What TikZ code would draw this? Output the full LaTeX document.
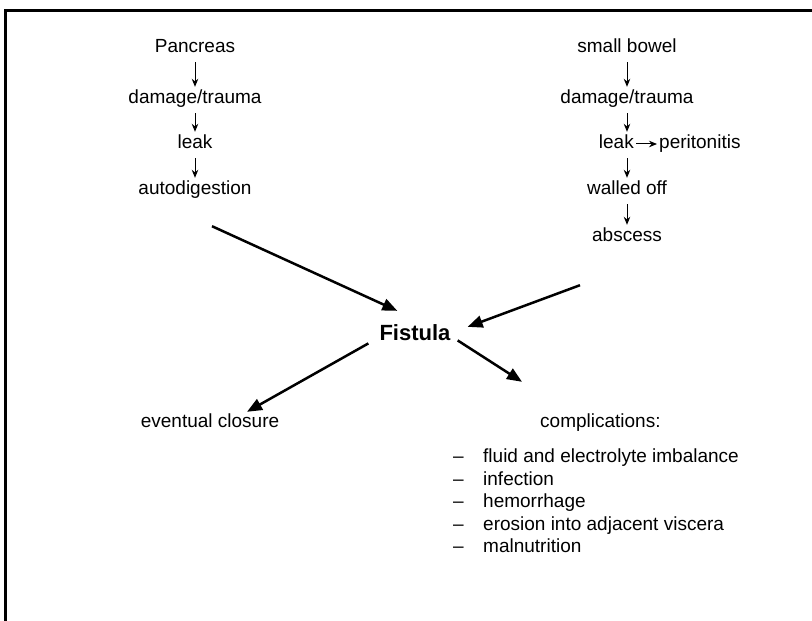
\documentclass[tikz,border=0pt]{standalone}
\usepackage{fontspec}
\setmainfont{Liberation Sans}
\usetikzlibrary{arrows.meta,calc}
\begin{document}
\begin{tikzpicture}[x=1bp,y=-1bp,
  lbl/.style={font=\fontsize{19bp}{22bp}\selectfont, inner sep=0pt, anchor=base, text height=14bp, text depth=4bp},
  smallarr/.style={-{Stealth[length=8bp,width=6.5bp]}, line width=1bp},
  bigarr/.style={-{Triangle[length=15bp,width=12bp]}, line width=2.5bp},
  frameline/.style={line width=3bp},
]
\useasboundingbox (0,0) rectangle (812,621);
\draw[frameline] (812,11) -- (5,11) -- (5,621);

% left column
\node[lbl] (p1) at (195,53) {Pancreas};
\node[lbl] (p2) at (195,104) {damage/trauma};
\node[lbl] (p3) at (195,149) {leak};
\node[lbl] (p4) at (195,195) {autodigestion};
\draw[smallarr, shorten <=5bp, shorten >=3bp] (p1) -- (p2);
\draw[smallarr, shorten <=5bp, shorten >=3bp] (p2) -- (p3);
\draw[smallarr, shorten <=5bp, shorten >=3bp] (p3) -- (p4);

% right column
\node[lbl] (b1) at (627,53) {small bowel};
\node[lbl] (b2) at (627,104) {damage/trauma};
\node[lbl, anchor=base east] (b3) at (634,149) {leak};
\node[lbl, anchor=base west] (b3p) at (659,149) {peritonitis};
\node[lbl] (b4) at (627,195) {walled off};
\node[lbl] (b5) at (627,242) {abscess};
\draw[smallarr, shorten <=5bp, shorten >=3bp] (b1) -- (b2);
\draw[smallarr, shorten <=5bp, shorten >=3bp] (b2) -- (b2 |- b3.north);
\draw[smallarr, shorten <=5bp, shorten >=3bp] (b4 |- b3.south) -- (b4);
\draw[smallarr, shorten <=5bp, shorten >=3bp] (b4) -- (b5);
\draw[smallarr, shorten <=2bp, shorten >=2bp] (b3) -- (b3p);

% centre
\node[font=\bfseries\fontsize{22bp}{26bp}\selectfont, inner sep=0pt, anchor=base] (fis) at (415,340) {Fistula};
\coordinate (s1) at ($(p4.south)+(17,27)$);
\coordinate (t1) at ($(fis.north west)+(18,-13)$);
\coordinate (s2) at ($(b5.south)+(-47,39)$);
\coordinate (t2) at ($(fis.north east)+(17,3)$);
\draw[bigarr] (s1) -- (t1);
\draw[bigarr] (s2) -- (t2);

% outcomes
\node[lbl] (ec) at (210,427) {eventual closure};
\node[lbl, anchor=base west] (co) at (540,427) {complications:};
\coordinate (s3) at ($(fis.south west)+(-11,3)$);
\coordinate (t3) at ($(ec.north)+(37,-1)$);
\coordinate (s4) at ($(fis.south east)+(7,0)$);
\coordinate (t4) at ($(co.north west)+(-18,-31)$);
\draw[bigarr] (s3) -- (t3);
\draw[bigarr] (s4) -- (t4);

% list
\foreach \y/\t [count=\i] in {462/fluid and electrolyte imbalance, 485/infection, 507/hemorrhage, 530/erosion into adjacent viscera, 552/malnutrition}{
  \node[lbl, anchor=base west] (d\i) at (453,\y) {–};
  \node[lbl, anchor=base west] (l\i) at (483,\y) {\t};
}
\end{tikzpicture}
\end{document}
